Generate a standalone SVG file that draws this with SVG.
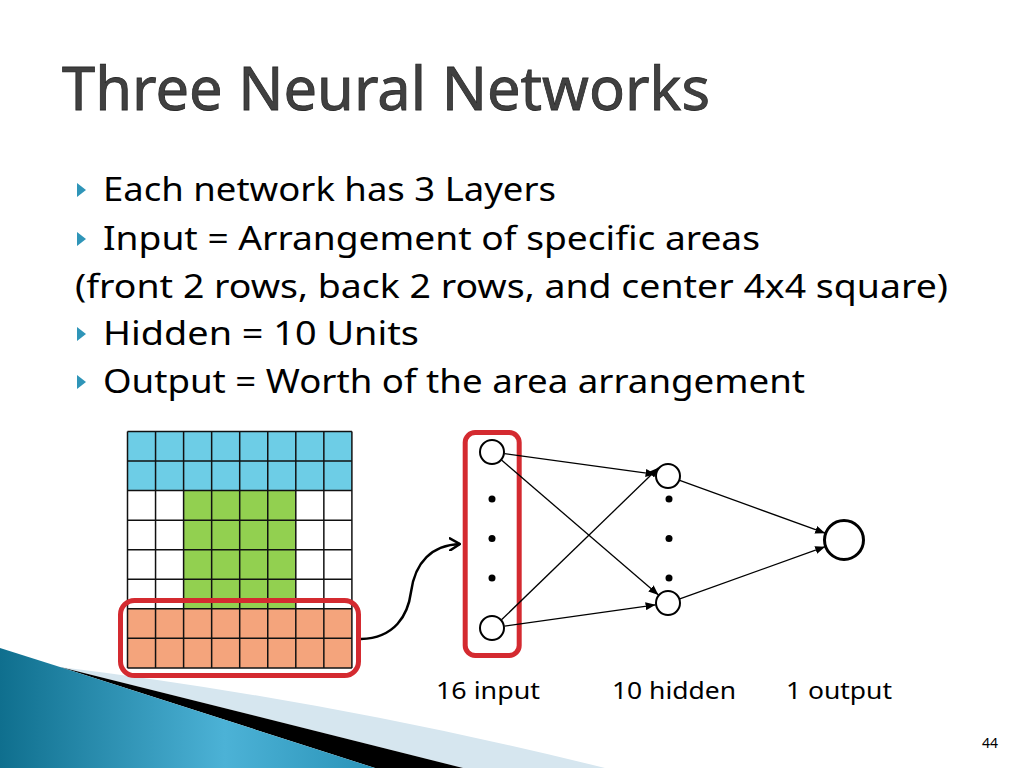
<svg xmlns="http://www.w3.org/2000/svg" width="1024" height="768" viewBox="0 0 1024 768">
<defs>
<linearGradient id="blueG" x1="0" y1="0" x2="1" y2="0">
<stop offset="0" stop-color="#0f6f8e"/>
<stop offset="0.6" stop-color="#4cb2d6"/>
<stop offset="1" stop-color="#2a93b8"/>
</linearGradient>
<marker id="ah" viewBox="0 0 10 8" refX="10" refY="4" markerWidth="10" markerHeight="8" markerUnits="userSpaceOnUse" orient="auto">
<path d="M0,0 L10,4 L0,8 Z" fill="#000"/>
</marker>
<marker id="open" viewBox="0 0 12 14" refX="11" refY="7" markerWidth="12" markerHeight="14" markerUnits="userSpaceOnUse" orient="auto">
<path d="M1,1 L11,7 L1,13" fill="none" stroke="#000" stroke-width="2.5" stroke-linecap="round" stroke-linejoin="round"/>
</marker>
</defs>
<style>
.title{font-family:"Noto Sans","DejaVu Sans",sans-serif;font-size:60px;fill:#404040;stroke:#2a2a2a;stroke-width:0.8}
.body{font-family:"Noto Sans","DejaVu Sans",sans-serif;font-size:32px;fill:#000}
.lab{font-family:"Noto Sans","DejaVu Sans",sans-serif;font-size:23px;fill:#000}
.pg{font-family:"Noto Sans","DejaVu Sans",sans-serif;font-size:14px;fill:#000}
.bul{fill:#2f95b8}
.cell{stroke:#111;stroke-width:1.5}
.node{fill:#fff;stroke:#000;stroke-width:2}
.dot{fill:#000}
.edge{stroke:#000;stroke-width:1.3;fill:none;marker-end:url(#ah)}
.red{fill:none;stroke:#d42a30;stroke-width:5}
</style>
<rect x="0" y="0" width="1024" height="768" fill="#fff"/>

<!-- background decoration -->
<path d="M60,667 Q330,700 605,768 L463,768 Z" fill="#d6e6ef"/>
<polygon points="60,667 463,768 375,768" fill="#000"/>
<polygon points="0,648 60,667 375,768 0,768" fill="url(#blueG)"/>

<text class="title" x="62" y="110" textLength="648" lengthAdjust="spacingAndGlyphs">Three Neural Networks</text>

<g id="bullets">
<polygon class="bul" points="77,183 86,190 77,197"/>
<text class="body" x="103" y="201" textLength="453" lengthAdjust="spacingAndGlyphs">Each network has 3 Layers</text>
<polygon class="bul" points="77,232 86,239 77,246"/>
<text class="body" x="103" y="250" textLength="657" lengthAdjust="spacingAndGlyphs">Input = Arrangement of specific areas</text>
<text class="body" x="75" y="298" textLength="873" lengthAdjust="spacingAndGlyphs">(front 2 rows, back 2 rows, and center 4x4 square)</text>
<polygon class="bul" points="77,327 86,334 77,341"/>
<text class="body" x="103" y="345" textLength="316" lengthAdjust="spacingAndGlyphs">Hidden = 10 Units</text>
<polygon class="bul" points="77,375 86,382 77,389"/>
<text class="body" x="103" y="393" textLength="702" lengthAdjust="spacingAndGlyphs">Output = Worth of the area arrangement</text>
</g>

<g id="grid">
<rect x="127.5" y="431.5" width="224.4" height="59.1" fill="#6dcde6"/>
<rect x="183.6" y="490.6" width="112.2" height="118.2" fill="#92d050"/>
<rect x="127.5" y="608.8" width="224.4" height="59.1" fill="#f4a47c"/>
<g class="cell">
<line x1="127.5" y1="431.5" x2="127.5" y2="667.9"/>
<line x1="155.55" y1="431.5" x2="155.55" y2="667.9"/>
<line x1="183.6" y1="431.5" x2="183.6" y2="667.9"/>
<line x1="211.65" y1="431.5" x2="211.65" y2="667.9"/>
<line x1="239.7" y1="431.5" x2="239.7" y2="667.9"/>
<line x1="267.75" y1="431.5" x2="267.75" y2="667.9"/>
<line x1="295.8" y1="431.5" x2="295.8" y2="667.9"/>
<line x1="323.85" y1="431.5" x2="323.85" y2="667.9"/>
<line x1="351.9" y1="431.5" x2="351.9" y2="667.9"/>
<line x1="127.5" y1="431.5" x2="351.9" y2="431.5"/>
<line x1="127.5" y1="461.05" x2="351.9" y2="461.05"/>
<line x1="127.5" y1="490.6" x2="351.9" y2="490.6"/>
<line x1="127.5" y1="520.15" x2="351.9" y2="520.15"/>
<line x1="127.5" y1="549.7" x2="351.9" y2="549.7"/>
<line x1="127.5" y1="579.25" x2="351.9" y2="579.25"/>
<line x1="127.5" y1="608.8" x2="351.9" y2="608.8"/>
<line x1="127.5" y1="638.35" x2="351.9" y2="638.35"/>
<line x1="127.5" y1="667.9" x2="351.9" y2="667.9"/>
</g>
</g>

<g id="frontBox"><rect class="red" x="120.5" y="600.5" width="238" height="75" rx="14"/></g>
<g id="inputBox"><rect class="red" x="465.2" y="432.5" width="54" height="223" rx="10"/></g>

<g id="connectors">
<path d="M361,639 C395,638 408,615 411,592 C415,562 432,545 460,544" fill="none" stroke="#000" stroke-width="2.5" marker-end="url(#open)"/>
<line class="edge" x1="504.4" y1="453.7" x2="655.6" y2="474.3"/>
<line class="edge" x1="501.5" y1="460.1" x2="658.5" y2="594.9"/>
<line class="edge" x1="501.5" y1="619.8" x2="658.5" y2="467.8"/>
<line class="edge" x1="504.4" y1="626.2" x2="655.6" y2="604.8"/>
<line class="edge" x1="679.7" y1="480.3" x2="825.2" y2="533.2"/>
<line class="edge" x1="679.8" y1="598.8" x2="825.2" y2="546.7"/>
</g>

<g id="input1"><circle class="node" cx="492" cy="452" r="12"/></g>
<g id="input16"><circle class="node" cx="492" cy="628" r="12"/></g>
<g id="inputDots">
<circle class="dot" cx="492" cy="499" r="3.5"/>
<circle class="dot" cx="492" cy="538.5" r="3.5"/>
<circle class="dot" cx="492" cy="578" r="3.5"/>
</g>
<g id="hidden1"><circle class="node" cx="668" cy="476" r="12"/></g>
<g id="hidden10"><circle class="node" cx="668" cy="603" r="12"/></g>
<g id="hiddenDots">
<circle class="dot" cx="669" cy="499" r="3.5"/>
<circle class="dot" cx="669" cy="538.5" r="3.5"/>
<circle class="dot" cx="669" cy="578" r="3.5"/>
</g>
<g id="output"><circle class="node" cx="844" cy="540" r="19.5" style="stroke-width:3"/></g>

<g id="labels">
<text class="lab" x="436" y="699" textLength="104" lengthAdjust="spacingAndGlyphs">16 input</text>
<text class="lab" x="612" y="699" textLength="124" lengthAdjust="spacingAndGlyphs">10 hidden</text>
<text class="lab" x="786" y="699" textLength="106" lengthAdjust="spacingAndGlyphs">1 output</text>
</g>

<text class="pg" x="982" y="748" textLength="16" lengthAdjust="spacingAndGlyphs">44</text>
</svg>
